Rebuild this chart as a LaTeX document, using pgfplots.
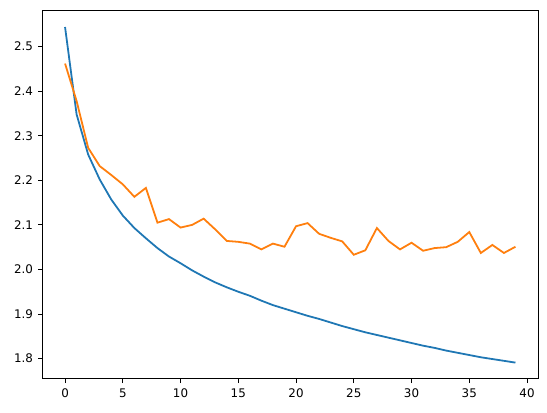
\documentclass[border=0pt]{standalone}
\usepackage{pgfplots}
\pgfplotsset{compat=1.18}
\usepackage{fontspec}
\setmainfont{DejaVu Sans}
\definecolor{mplblue}{HTML}{1F77B4}
\definecolor{mplorange}{HTML}{FF7F0E}
\begin{document}
\begin{tikzpicture}
\begin{axis}[
  scale only axis,
  width=371.6pt, height=276.5pt,
  xmin=-1.95, xmax=40.95,
  ymin=1.7544, ymax=2.5816,
  xtick={0,5,...,40},
  ytick={1.8,1.9,2.0,2.1,2.2,2.3,2.4,2.5},
  yticklabel style={/pgf/number format/fixed,/pgf/number format/fixed zerofill,/pgf/number format/precision=1,xshift=-0.6pt},
  /pgf/number format/assume math mode=true,
  tick align=outside,
  tick pos=left,
  major tick length=3.1pt,
  tick style={black, line width=0.71pt},
  axis line style={line width=0.71pt},
  ticklabel style={font=\fontsize{8.9pt}{10pt}\selectfont},
  xticklabel style={yshift=-0.6pt},
]
\addplot[mplblue, line width=1.34pt] coordinates {
(0,2.544)(1,2.348)(2,2.258)(3,2.202)(4,2.157)(5,2.121)(6,2.093)(7,2.070)(8,2.048)(9,2.029)
(10,2.014)(11,1.998)(12,1.984)(13,1.971)(14,1.960)(15,1.950)(16,1.941)(17,1.930)(18,1.920)(19,1.912)
(20,1.904)(21,1.896)(22,1.889)(23,1.881)(24,1.873)(25,1.866)(26,1.859)(27,1.853)(28,1.847)(29,1.841)
(30,1.835)(31,1.829)(32,1.824)(33,1.818)(34,1.813)(35,1.808)(36,1.803)(37,1.799)(38,1.795)(39,1.791)
};
\addplot[mplorange, line width=1.34pt] coordinates {
(0,2.462)(1,2.378)(2,2.273)(3,2.232)(4,2.212)(5,2.191)(6,2.163)(7,2.183)(8,2.105)(9,2.113)
(10,2.094)(11,2.100)(12,2.114)(13,2.090)(14,2.064)(15,2.062)(16,2.058)(17,2.045)(18,2.058)(19,2.051)
(20,2.097)(21,2.104)(22,2.080)(23,2.071)(24,2.063)(25,2.033)(26,2.043)(27,2.093)(28,2.064)(29,2.045)
(30,2.060)(31,2.042)(32,2.048)(33,2.050)(34,2.062)(35,2.084)(36,2.037)(37,2.055)(38,2.037)(39,2.051)
};
\end{axis}
\pgfresetboundingbox
\path ([shift={(-31.9pt,-25.5pt)}]current axis.south west) rectangle ([shift={(6.75pt,7.7pt)}]current axis.north east);
\end{tikzpicture}
\end{document}
